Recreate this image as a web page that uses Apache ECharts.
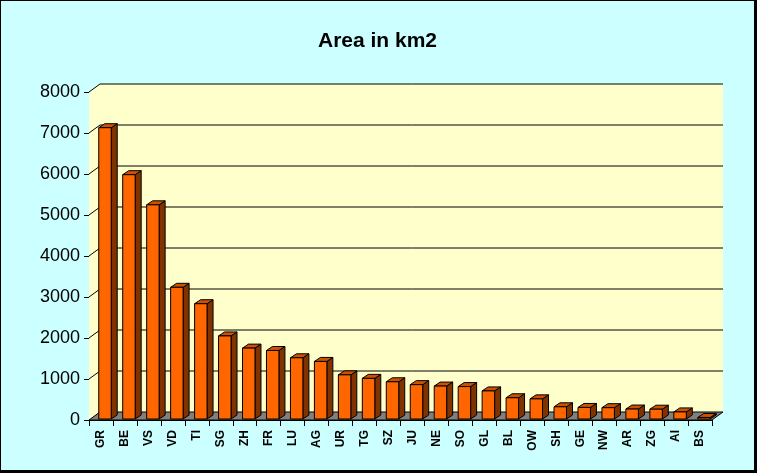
<!DOCTYPE html>
<html>
<head>
<meta charset="UTF-8">
<title>Area in km2</title>
<style>
  html, body { margin: 0; padding: 0; background: #fff; }
  #frame { position: absolute; left: 0; top: 0; width: 753px; height: 469px;
           border-left: 1px solid #000; border-top: 1px solid #000;
           border-right: 3px solid #000; border-bottom: 3px solid #000; background: #ccffff; }
  #main { width: 753px; height: 469px; }
</style>
</head>
<body>
<div id="frame"><div id="main"></div></div>
<script src="https://cdn.jsdelivr.net/npm/echarts@6/dist/echarts.min.js"></script>
<script>
// cantons and their area (km2)
var cantons = ['GR','BE','VS','VD','TI','SG','ZH','FR','LU','AG','UR','TG','SZ','JU','NE','SO','GL','BL','OW','SH','GE','NW','AR','ZG','AI','BS'];
var areas = [7105,5959,5224,3212,2812,2026,1729,1671,1493,1404,1077,991,908,838,803,791,685,518,491,298,282,276,243,239,173,37];
var yTicks = [0,1000,2000,3000,4000,5000,6000,7000,8000];

var DX = 11, DY = -8;   // depth of the back wall
var BX = 6, BY = -4;    // depth of a bar

var myChart = echarts.init(document.getElementById('main'));

function wallItem(params, api) {
  var cs = params.coordSys;
  var x0 = cs.x, x1 = cs.x + cs.width, y0 = cs.y, y1 = cs.y + cs.height;
  var kids = [];
  // left side wall
  kids.push({ type: 'polygon', shape: { points: [[x0,y1],[x0,y0],[x0+DX,y0+DY],[x0+DX,y1+DY]] },
              style: { fill: '#ffffcc', stroke: null } });
  // back wall
  kids.push({ type: 'rect', shape: { x: x0+DX, y: y0+DY, width: x1-x0, height: y1-y0 },
              style: { fill: '#ffffcc', stroke: null } });
  // floor
  kids.push({ type: 'polygon', shape: { points: [[x0,y1],[x1,y1],[x1+DX,y1+DY],[x0+DX,y1+DY]] },
              style: { fill: '#808080', stroke: '#000', lineWidth: 1 } });
  // grid lines on the back wall and connectors on the side wall
  yTicks.forEach(function (v) {
    if (v === 0) return;
    var y = api.coord([0, v])[1];
    kids.push({ type: 'line', shape: { x1: x0+DX, y1: y+DY, x2: x1+DX, y2: y+DY },
                style: { stroke: '#000', lineWidth: 1 } });
    kids.push({ type: 'line', shape: { x1: x0, y1: y, x2: x0+DX, y2: y+DY },
                style: { stroke: '#000', lineWidth: 1 } });
  });
  return { type: 'group', children: kids };
}

function barItem(params, api) {
  var v = api.value(1);
  var base = api.coord([api.value(0), 0]);
  var top = api.coord([api.value(0), v]);
  var w = api.size([1, 0])[0] * 0.52;
  var x = base[0] - w / 2 + 4;
  var yb = base[1] - 1, yt = top[1] - 1;
  return { type: 'group', children: [
    { type: 'polygon', shape: { points: [[x+w,yb],[x+w,yt],[x+w+BX,yt+BY],[x+w+BX,yb+BY]] },
      style: { fill: '#803300', stroke: '#000', lineWidth: 1 } },
    { type: 'polygon', shape: { points: [[x,yt],[x+w,yt],[x+w+BX,yt+BY],[x+BX,yt+BY]] },
      style: { fill: '#cc5200', stroke: '#000', lineWidth: 1 } },
    { type: 'rect', shape: { x: x, y: yt, width: w, height: yb - yt },
      style: { fill: '#ff6600', stroke: '#000', lineWidth: 1 } }
  ]};
}

myChart.setOption({
  backgroundColor: '#ccffff',
  animation: false,
  title: {
    text: 'Area in km2', left: 'center', top: 25,
    textStyle: { fontFamily: 'Arial', fontSize: 21, fontWeight: 'bold', color: '#000' }
  },
  grid: { left: 88, right: 42, top: 91, bottom: 50 },
  xAxis: {
    type: 'category', data: cantons,
    axisLine: { show: true, lineStyle: { color: '#000', width: 1 } },
    axisTick: { show: true, length: 6, lineStyle: { color: '#000' } },
    axisLabel: { rotate: 90, margin: 10, fontFamily: 'Arial', fontSize: 12, fontWeight: 'bold', color: '#000' },
    splitLine: { show: false }
  },
  yAxis: {
    type: 'value', min: 0, max: 8000, interval: 1000,
    axisLine: { show: true, lineStyle: { color: '#000', width: 1 } },
    axisTick: { show: true, length: 5, lineStyle: { color: '#000' } },
    axisLabel: { margin: 9, fontFamily: 'Arial', fontSize: 18, color: '#000',
                 formatter: function (v) { return String(v); } },
    splitLine: { show: false }
  },
  series: [
    { type: 'custom', name: 'walls', data: [[0, 0]], renderItem: wallItem, clip: false, z: 1, silent: true },
    { type: 'custom', name: 'Area', data: areas.map(function (a, i) { return [i, a]; }),
      renderItem: barItem, clip: false, z: 3, encode: { x: 0, y: 1 } }
  ]
});
</script>
</body>
</html>
